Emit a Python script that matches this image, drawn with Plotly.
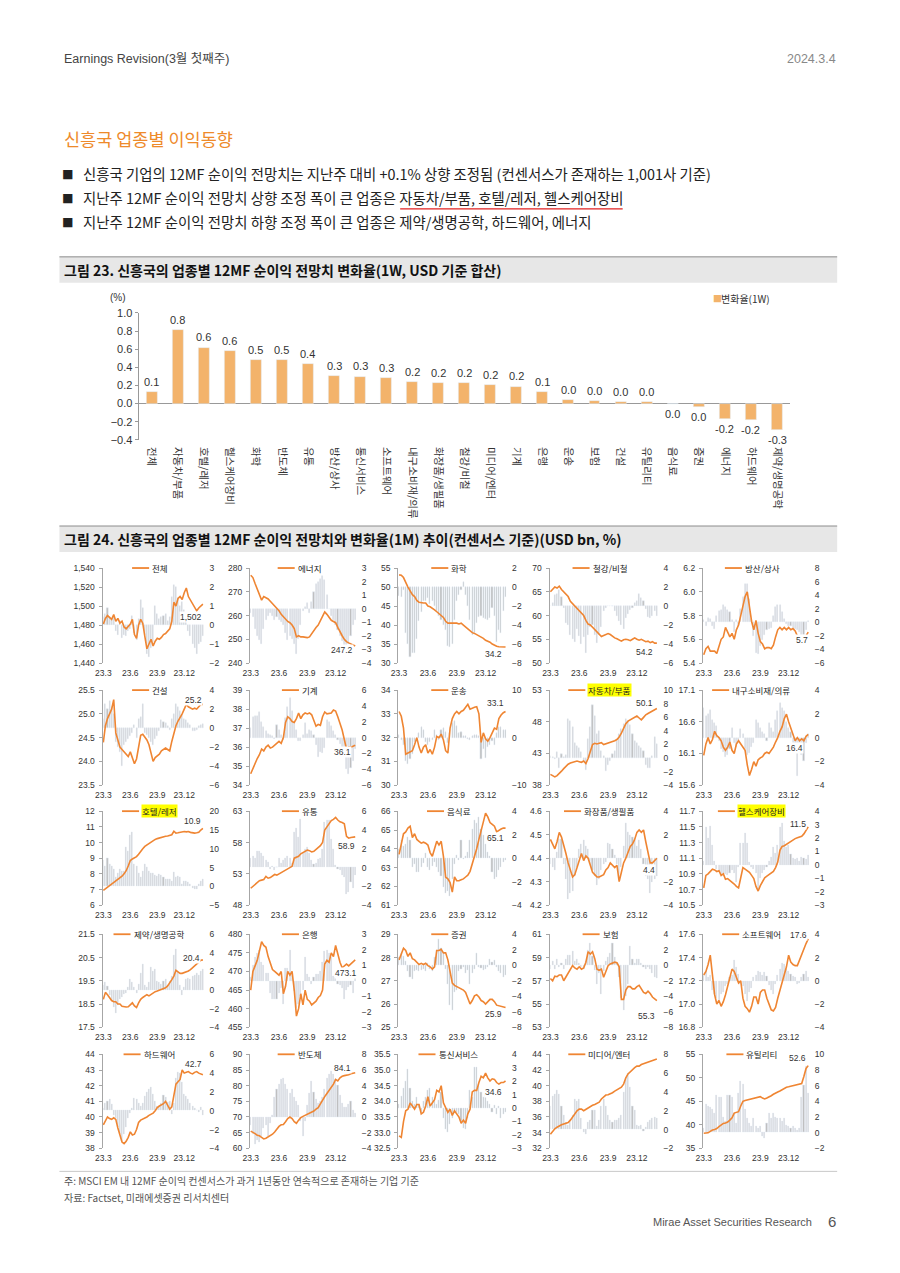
import plotly.graph_objects as go

W, H = 900, 1273
ORANGE = "#EF8532"
BAR_ORANGE = "#F3B36B"
GRAY = "#BDBDBD"
TXT = "#333333"
NUMFONT = "Liberation Sans, Noto Sans CJK KR, sans-serif"
KRFONT = "Noto Sans CJK KR, sans-serif"

# ---------------- Figure 23 data ----------------
bar_cats = ['전체', '자동차/부품', '호텔/레저', '헬스케어장비', '화학', '반도체', '유통', '방산/상사',
            '통신서비스', '소프트웨어', '내구소비재/의류', '화장품/생필품', '철강/비철', '미디어/엔터',
            '기계', '은행', '운송', '보험', '건설', '유틸리티', '음식료', '증권', '에너지', '하드웨어',
            '제약/생명공학']
bar_vals = [0.13, 0.81, 0.62, 0.58, 0.48, 0.48, 0.44, 0.31, 0.30, 0.28, 0.24, 0.23, 0.23, 0.21,
            0.19, 0.13, 0.04, 0.03, 0.02, 0.02, -0.003, -0.04, -0.17, -0.18, -0.29]

# ---------------- Figure 24 data (weekly, 23.3 ~ 24.3) ----------------
x_ticks = ['23.3', '23.6', '23.9', '23.12']
x_tick_idx = [0, 13, 26, 39]

panel_names = ['전체', '에너지', '화학', '철강/비철', '방산/상사',
               '건설', '기계', '운송', '자동차/부품', '내구소비재/의류',
               '호텔/레저', '유통', '음식료', '화장품/생필품', '헬스케어장비',
               '제약/생명공학', '은행', '증권', '보험', '소프트웨어',
               '하드웨어', '반도체', '통신서비스', '미디어/엔터', '유틸리티']
highlighted = ['자동차/부품', '호텔/레저', '헬스케어장비']

total_line = [1481, 1487, 1490, 1488, 1486, 1491, 1484, 1487, 1482, 1484, 1478, 1476, 1479, 1481, 1486, 1470, 1466, 1480, 1486, 1482, 1468, 1455, 1460, 1465, 1458, 1463, 1466, 1465, 1467, 1470, 1471, 1474, 1476, 1484, 1504, 1500, 1508, 1510, 1507, 1514, 1519, 1510, 1506, 1502, 1499, 1495, 1498, 1500, 1502]
total_bar = [0.4, 0.6, 0.9, 0.4, 0.3, 0.4, -0.3, -0.5, 0.2, -0.7, -0.5, -0.6, -0.3, -0.2, 0.5, -0.4, -0.8, 0.3, 1.3, 0.9, -0.5, -1.5, -1.7, -1.2, -0.9, 1.0, 0.6, 0.3, 0.4, 0.5, 0.6, 0.2, 0.4, 1.5, 2.1, 2.0, 1.4, 1.0, 1.2, 0.8, 0.3, -0.3, -0.6, -1.0, -1.2, -1.5, -1.0, -0.9, -0.6]

energy_line = [277, 276, 273.5, 271, 269, 266.5, 268, 267.5, 267, 266, 265, 264, 263, 262, 260.5, 259.5, 258.5, 257.5, 257, 256, 254.5, 251, 251.5, 251, 251, 250.8, 250.7, 251, 252.5, 254, 255, 256, 258, 260, 261.5, 260.5, 259, 258, 257.5, 257, 255, 253, 251.5, 250, 249, 248.5, 248, 247.5, 247.2]
energy_bar = [-0.3, -0.6, -1.5, -2.0, -2.3, -2.6, -1.5, -0.8, -0.5, -0.3, -0.5, -0.8, -0.6, -0.8, -1.0, -1.2, -1.8, -2.3, -2.0, -2.2, -2.6, -3.3, -2.2, -1.2, -0.2, 0.1, 0.4, -0.3, 0.5, 1.2, 1.8, 2.0, 2.2, 2.4, 2.1, 1.0, 0, -0.5, -0.8, -1.2, -1.6, -2.0, -2.4, -2.8, -3.0, -2.6, -2.0, -1.2, -0.8]

chem_line = [53.2, 53.1, 52.5, 51, 50, 49, 48, 47.5, 46.5, 46, 45.8, 45.8, 45.8, 45, 44.8, 44.5, 44, 43.5, 43, 42.5, 42, 41, 40.5, 40.5, 40.5, 40.5, 40.5, 40.3, 40.5, 40, 39.5, 39, 38.5, 38, 37.8, 37.5, 37.3, 37, 36.5, 36, 35.8, 35.5, 35, 34.6, 34.4, 34.3, 34.2, 34.2, 34.2]
chem_bar = [-0.9, -1.0, -0.3, -4.8, -6.0, -7.4, -6.9, -6.9, -5.5, -3.6, -2.6, -1.5, -1.5, -1.2, -1.8, -1.5, -2.0, -2.5, -3.0, -3.5, -4.0, -4.5, -6.2, -6.3, -6.0, -3.5, -1.5, -0.8, -0.3, 0.5, -0.8, -2.0, -3.5, -5.0, -4.8, -3.8, -3.2, -3.0, -3.3, -3.4, -3.5, -3.3, -2.2, -3.0, -5.8, -4.5, -4.8, -2.5, -1.0]

steel_line = [65, 65.5, 66, 65.8, 66.2, 65.5, 65, 64.5, 64, 63, 62.5, 62, 61.5, 61, 60.5, 60, 59, 58.2, 58, 57.5, 57, 56.5, 56, 55.6, 55.8, 56, 56.2, 56, 55.6, 55.3, 55.1, 54.8, 54.6, 54.9, 55, 54.9, 54.7, 55, 55.3, 55, 54.8, 55, 54.7, 54.5, 54.6, 54.3, 54.5, 54.2, 54.2]
steel_bar = [0, 0.3, 1.2, 1.3, 1.7, 1.0, -0.2, -1.8, -2.0, -3.0, -3.5, -3.8, -2.4, -3.2, -4.0, -3.3, -4.9, -3.0, -2.2, -2.0, -3.1, -3.9, -3.0, -2.2, -0.5, -0.2, 0, 0, 0, -0.5, -1.0, -1.6, -2.0, -2.4, -1.3, -0.8, -0.4, -0.2, 0.3, 0.5, 1.3, 0.8, 0.5, -0.3, -1.2, -1.3, -1.0, -0.5, -1.0]

trading_line = [5.47, 5.52, 5.54, 5.50, 5.50, 5.50, 5.48, 5.55, 5.60, 5.62, 5.70, 5.66, 5.62, 5.65, 5.60, 5.68, 5.72, 5.80, 5.88, 5.96, 6.00, 5.85, 5.75, 5.68, 5.76, 5.65, 5.58, 5.56, 5.52, 5.53, 5.53, 5.52, 5.55, 5.62, 5.68, 5.70, 5.68, 5.70, 5.68, 5.70, 5.68, 5.69, 5.67, 5.63, 5.60, 5.58, 5.57, 5.63, 5.66]
trading_bar = [0.3, -0.5, 0.6, 0.5, -0.6, -1.0, 1.0, 1.6, 1.8, 2.6, 2.2, 1.8, 1.5, 0.3, -1.5, 0.3, -0.5, 2.0, 3.8, 5.6, 5.6, 3.5, 0.5, -2.0, -4.5, -4.7, -3.5, -2.6, -1.8, -1.2, -1.0, -0.8, 1.0, 2.2, 2.5, 2.5, 1.5, 0.5, -0.3, -0.5, -0.5, -0.8, -1.0, -1.2, -1.5, -1.8, -1.8, -1.2, 0.2]

constr_line = [24.4, 24.75, 24.9, 25.0, 25.1, 25.3, 24.6, 24.45, 24.3, 24.25, 24.2, 24.15, 24.1, 24.2, 24.05, 23.95, 24.05, 24.35, 24.55, 24.57, 24.52, 24.45, 24.35, 24.2, 24.0, 24.08, 24.12, 24.15, 24.22, 24.26, 24.28, 24.25, 24.22, 24.42, 24.6, 24.75, 24.85, 24.92, 25.0, 25.1, 25.2, 25.15, 25.12, 25.1, 25.12, 25.1, 25.15, 25.2, 25.2]
constr_bar = [1.0, 2.5, 2.0, 2.8, 2.2, 1.5, -1.5, -2.0, -2.5, -4.0, -1.8, -1.5, -1.2, -0.8, -0.5, 0.3, -1.0, 1.0, 1.2, 2.5, -0.5, -0.7, -1.0, -1.5, -1.8, -1.2, -0.8, -0.3, 0.8, 0.6, 0.5, 0.2, -0.2, 1.0, 1.5, 2.5, 2.2, 1.8, 1.4, 1.0, 0.8, 0.5, 0.3, -0.3, -0.3, -0.2, 0.2, 0.3, 0.4]

mach_line = [34.6, 34.9, 35.2, 35.4, 35.6, 35.9, 35.8, 36.0, 36.1, 35.95, 36.0, 36.1, 36.25, 36.3, 36.2, 36.5, 37.3, 37.6, 37.5, 37.35, 37.3, 37.5, 37.8, 37.5, 37.7, 37.8, 37.75, 37.8, 37.7, 37.4, 37.1, 37.2, 37.15, 37.6, 37.85, 37.75, 37.78, 37.8, 37.95, 37.9, 37.6, 37.3, 36.9, 36.4, 35.9, 36.0, 36.0, 36.05, 36.1]
mach_bar = [1.2, 2.6, 2.7, 2.7, 3.2, 2.0, 1.3, 0.8, 0.5, 0.3, 0.2, -0.2, 1.6, 1.0, 0.3, -0.3, 2.5, 3.8, 5.0, 3.4, 1.8, 1.0, -0.4, -0.5, 0.3, 1.8, 0.5, 1.0, 0.8, 0.3, -1.0, -2.4, -1.8, -2.0, -1.3, 2.2, 2.0, 1.5, 0.8, 0.3, -0.3, -0.8, -1.5, -2.0, -4.0, -4.6, -3.8, -3.0, -1.5]

trans_line = [33.1, 32.9, 32.4, 31.3, 31.35, 31.4, 31.45, 31.7, 32.0, 31.6, 31.35, 31.6, 31.7, 31.35, 31.5, 31.3, 31.6, 32.05, 32.0, 32.15, 31.9, 31.45, 31.35, 32.4, 32.8, 33.0, 33.1, 33.0, 33.1, 33.15, 33.3, 33.4, 33.2, 33.25, 33.28, 33.3, 33.0, 31.8, 32.2, 31.95, 31.85, 32.0, 32.2, 32.4, 32.35, 32.8, 32.95, 33.05, 33.1]
trans_bar = [0.5, -0.5, -1.5, -5.0, -5.5, -4.5, -3.5, -1.0, -0.8, 1.0, 2.2, 1.6, -1.0, -1.5, -1.0, -0.5, 1.5, 0.5, -0.5, 1.5, 2.0, 1.2, -1.2, 1.0, 3.0, 3.5, 2.5, 1.0, 1.2, 0.3, 0.4, -0.3, -0.5, 0.4, 0.5, 0.5, 0.3, -4.6, -2.5, -4.3, -2.0, -1.5, -0.7, -1.5, 1.0, 2.2, 2.2, 1.5, 1.5]

auto_line = [39.7, 39.5, 39.3, 39.5, 39.8, 40.2, 40.6, 41.0, 41.3, 41.5, 41.6, 41.7, 41.8, 41.7, 41.6, 41.8, 41.4, 42.2, 43.2, 44.4, 44.6, 44.5, 44.6, 44.7, 44.4, 44.5, 44.6, 44.7, 44.8, 45.0, 45.2, 45.6, 46.2, 47.0, 47.7, 48.1, 48.3, 48.5, 48.8, 48.9, 48.6, 48.3, 48.7, 49.1, 49.3, 49.5, 49.7, 49.9, 50.1]
auto_bar = [0.3, 0.2, -0.2, 0.8, -1.5, 0.5, 0.2, 0.4, 5.8, 5.5, 4.5, 2.2, 1.8, 1.5, 0.8, -0.5, -1.8, 2.8, 4.5, 7.8, 6.2, 3.5, 4.0, 1.0, 0.3, -2.0, -1.0, -0.5, 0.5, 1.0, 2.5, 3.5, 4.3, 5.0, 5.8, 5.5, 4.8, 3.5, 2.5, 2.2, 1.8, 1.5, 1.0, -1.0, -1.5, -1.5, 0.3, 3.1, 2.0]

durable_line = [16.07, 16.25, 16.35, 16.25, 16.32, 16.45, 16.38, 16.35, 16.3, 16.2, 16.15, 16.2, 16.28, 16.15, 16.1, 16.25, 16.3, 16.25, 16.2, 16.15, 15.92, 15.75, 15.85, 15.97, 15.9, 16.0, 16.03, 16.05, 16.1, 16.12, 16.1, 16.15, 16.2, 16.28, 16.35, 16.45, 16.52, 16.65, 16.72, 16.6, 16.5, 16.4, 16.3, 16.35, 16.3, 16.33, 16.3, 16.37, 16.4]
durable_bar = [2.5, 1.8, 2.0, 2.3, 1.5, 1.2, 1.0, -0.3, -1.0, -1.2, -1.6, -1.5, -1.0, 0.8, -0.5, -0.8, -0.4, 0.7, 0.3, -1.0, -1.5, -1.3, -0.8, -0.5, 1.5, 1.2, 0.8, 0.5, 0.3, -0.3, 1.2, 0.8, 0.5, 1.5, 2.2, 2.9, 2.5, 2.2, 1.3, 0.8, 0.5, -0.5, -0.8, -3.2, -1.0, -1.5, -2.0, -0.5, 0.3]

hotel_line = [6.95, 7.05, 7.15, 7.25, 7.3, 7.4, 7.5, 7.6, 7.7, 7.85, 8.0, 8.2, 8.5, 8.85, 8.95, 9.0, 9.1, 9.25, 9.45, 9.6, 9.75, 9.85, 9.95, 10.05, 10.12, 10.2, 10.25, 10.3, 10.35, 10.4, 10.4, 10.42, 10.45, 10.5, 10.72, 10.6, 10.62, 10.65, 10.65, 10.7, 10.68, 10.7, 10.65, 10.6, 10.6, 10.62, 10.65, 10.8, 10.9]
hotel_bar = [7.0, 5.5, 7.5, 6.0, 5.5, 4.5, 2.5, 3.5, 4.5, 4.0, 4.0, 10.5, 9.5, 13.5, 14.5, 6.0, 5.5, 3.5, 2.5, 4.0, 6.0, 5.0, 4.0, 3.5, 3.5, 3.0, 2.8, 3.2, 3.0, 2.5, 2.0, 1.8, 1.8, 1.5, 3.8, 2.5, 2.6, 2.5, 0.5, 1.5, 1.3, 1.0, 0.5, -0.5, -0.8, -0.8, 0.5, 1.5, 1.8]

retail_line = [50.7, 51.0, 51.3, 51.6, 51.9, 52.0, 52.1, 52.6, 52.3, 52.4, 52.6, 52.9, 52.8, 53.0, 53.2, 53.4, 53.6, 53.7, 54.0, 54.2, 55.5, 55.6, 55.8, 56.2, 56.4, 56.6, 56.8, 56.7, 56.5, 56.6, 56.9, 57.3, 57.5, 58.0, 60.0, 60.5, 61.0, 61.5, 61.7, 62.0, 61.6, 61.3, 61.2, 61.0, 59.0, 58.7, 58.8, 58.9, 58.9]
retail_bar = [1.0, 1.2, 1.0, 1.8, 1.7, 1.5, 1.2, 0.8, 0.6, -0.2, 0.2, -0.3, 0.0, 1.0, 0.5, 0.8, 1.0, 1.2, 1.0, 0.5, 3.8, 4.2, 3.2, 5.2, 1.5, 2.0, 2.2, 1.5, 0.8, 0.4, 0.5, 0.9, 1.0, 2.0, 4.8, 5.0, 5.0, 3.0, 2.0, 0.3, -0.2, -0.3, -0.8, -1.0, -2.8, -2.6, -1.5, -2.2, -0.8]

food_line = [63.7, 64.3, 64.8, 64.9, 65.1, 65.2, 64.6, 64.8, 64.5, 64.4, 64.3, 64.35, 64.3, 64.2, 63.8, 63.6, 64.0, 64.4, 64.2, 64.4, 63.6, 62.5, 62.4, 62.2, 61.7, 62.5, 62.3, 62.3, 62.35, 62.4, 62.5, 62.6, 62.8, 63.2, 63.5, 64.0, 64.5, 65.0, 65.5, 65.9, 65.7, 65.4, 65.3, 65.2, 64.9, 65.0, 65.05, 65.1, 65.1]
food_bar = [0.8, 1.5, 1.0, 1.2, 1.8, 1.5, -0.8, -0.5, -1.2, -1.2, -0.8, -0.4, 0.4, -0.8, -1.0, -0.7, -0.3, -0.8, -1.2, -1.5, -2.5, -3.0, -2.8, -3.2, -1.8, -0.5, 0.3, -0.2, 1.5, -0.1, 0.2, 0.5, 1.5, 2.5, 3.2, 3.0, 3.5, 2.5, 2.0, 1.2, 0.5, 0.2, -1.2, -1.8, -1.6, -1.0, -0.8, -0.3, -0.2]

cosm_line = [4.48, 4.46, 4.44, 4.47, 4.51, 4.49, 4.46, 4.42, 4.38, 4.35, 4.32, 4.33, 4.36, 4.39, 4.42, 4.39, 4.41, 4.40, 4.37, 4.34, 4.33, 4.32, 4.32, 4.325, 4.33, 4.35, 4.36, 4.38, 4.37, 4.36, 4.37, 4.30, 4.34, 4.38, 4.40, 4.43, 4.45, 4.46, 4.48, 4.51, 4.52, 4.51, 4.52, 4.47, 4.42, 4.38, 4.38, 4.39, 4.40]
cosm_bar = [-0.5, -0.8, -1.0, 0.5, 1.6, 1.6, -0.5, -1.8, -3.5, -3.0, -2.8, -1.5, -0.8, 0.8, 1.2, 1.5, 1.0, 0.8, -0.5, -1.0, -1.5, -2.3, -1.8, -1.0, -0.5, -0.3, 1.3, 1.2, 0.8, 0.3, -0.5, -1.8, -0.8, 1.0, 3.0, 2.2, 2.0, 1.8, 1.5, 1.0, 1.5, 0.8, -0.5, -1.5, -1.8, -3.0, -2.0, -1.8, -1.5]

hce_line = [10.72, 10.88, 10.9, 10.93, 10.96, 10.95, 10.93, 10.94, 10.88, 10.9, 10.83, 10.84, 10.82, 10.8, 10.77, 10.74, 10.72, 10.85, 10.98, 10.96, 10.94, 10.92, 10.88, 10.84, 10.74, 10.68, 10.75, 10.8, 10.85, 10.87, 10.89, 10.9, 10.93, 10.98, 11.05, 11.2, 11.25, 11.26, 11.28, 11.3, 11.31, 11.33, 11.35, 11.36, 11.37, 11.38, 11.41, 11.45, 11.5]
hce_bar = [0.3, 2.8, 2.0, 2.9, 1.5, 0.3, -0.3, -0.5, -0.7, -0.6, -0.7, -0.8, -0.6, -0.4, -0.6, -1.3, -0.2, 1.6, 1.6, 2.4, 1.6, 0.2, -0.2, -0.3, -0.6, -1.8, -1.0, -0.6, -0.4, -0.2, 0.3, 0.6, 1.3, 0.9, 1.5, 2.8, 3.1, 1.8, 1.3, 1.5, 0.8, 0.5, 0.4, 0.5, 0.3, 0.6, 0.5, 0.4, 0.7]

pharma_line = [18.7, 19.0, 18.9, 18.75, 18.65, 18.6, 18.6, 18.5, 18.5, 18.4, 18.38, 18.37, 18.38, 18.45, 18.55, 18.42, 18.35, 18.55, 18.7, 18.78, 18.85, 18.9, 18.85, 18.92, 18.98, 19.03, 19.06, 19.1, 19.12, 19.15, 19.2, 19.28, 19.4, 19.55, 19.7, 19.95, 19.88, 19.82, 19.82, 19.85, 19.88, 19.92, 19.98, 20.05, 20.12, 20.22, 20.3, 20.38, 20.4]
pharma_bar = [0.5, 0.8, 0.4, -0.6, -1.2, -1.8, -2.5, -1.6, -1.0, -0.8, -0.5, -0.3, 0.3, 1.2, 0.8, 0.3, -0.3, 0.6, 1.8, 2.8, 0.5, 0.3, 0.8, 2.5, 2.0, 2.2, 1.0, 0.8, 0.6, 1.0, 1.2, 0.5, 1.0, 1.5, 3.8, 4.4, 2.0, 0.5, -0.6, 0.3, 1.2, 1.3, 1.2, 1.5, 1.6, 1.8, 1.6, 2.0, 2.2]

bank_line = [465, 470, 471.5, 473, 475.5, 478, 477, 476.5, 474, 472, 470.5, 470, 469.5, 469, 470, 464, 466, 470, 469, 470, 465, 458, 460, 464, 461, 465, 462.5, 462, 461, 461.5, 462, 463, 463.5, 465, 472, 473, 472.5, 475, 474, 477, 474.5, 472.5, 471, 471.5, 472, 471.5, 472, 472.5, 473.1]
bank_bar = [0.2, 1.0, 1.5, 1.8, 2.0, 1.2, 1.0, 0.5, 0.5, -0.8, -1.2, -1.2, -1.2, -0.8, -0.5, -1.5, 0.8, 0.8, 2.0, 0.5, -0.7, -1.8, -1.5, -1.0, -0.6, 1.5, 0.4, 0.2, -0.2, 0.2, 0.4, 0.4, 0.6, 1.2, 1.9, 2.0, 1.8, 1.5, 0.3, 0.2, -0.2, -0.3, -0.5, -1.2, -0.6, -0.4, -0.3, -0.8, 0.2]

sec_line = [27.9, 28.2, 28.4, 28.3, 28.05, 28.2, 27.95, 27.9, 27.8, 27.7, 27.75, 27.7, 27.75, 27.65, 27.6, 27.5, 27.6, 28.3, 28.3, 28.35, 28.2, 28.2, 27.9, 27.3, 26.9, 26.8, 26.75, 26.72, 26.65, 26.6, 26.5, 26.2, 26.0, 26.15, 26.35, 26.4, 26.3, 26.15, 26.1, 26.0, 26.1, 26.2, 26.2, 26.1, 25.95, 25.92, 25.9, 25.88, 25.85]
sec_bar = [1.0, 1.5, 1.2, 0.5, -0.8, -1.5, -1.8, -0.8, -0.6, -0.8, -0.6, -0.5, -0.8, 0.3, -0.5, -0.8, 1.0, 2.0, 3.3, 2.2, 1.5, -0.5, -2.5, -5.2, -5.8, -3.5, -3.2, -0.8, -0.5, -0.3, -1.0, -0.7, -2.5, -1.0, -0.5, 1.5, -0.3, -0.4, -0.6, -0.5, -0.3, 0.8, 0.4, 0.7, -0.2, -0.8, -1.0, -1.5, -1.3]

ins_line = [57.2, 57.0, 57.4, 57.35, 57.5, 57.5, 57.0, 57.3, 57.7, 58.0, 58.3, 58.1, 58.0, 58.2, 58.0, 58.1, 58.6, 59.5, 59.3, 59.5, 58.9, 58.0, 57.9, 58.0, 57.3, 57.8, 58.3, 58.45, 58.55, 58.6, 58.55, 58.2, 55.4, 55.4, 56.2, 56.5, 56.5, 56.3, 56.3, 56.5, 56.6, 56.3, 56.0, 55.9, 56.1, 55.9, 55.6, 55.45, 55.3]
ins_bar = [-0.5, 0.5, -0.5, 0.8, -0.3, 0.2, -0.5, 0.8, 1.3, 1.3, 1.8, 0.5, 0.8, 0.3, -0.3, -0.5, 0.5, 2.0, 2.8, 1.2, -0.6, -2.5, -1.0, -3.8, -0.8, 0.5, 1.0, 1.5, 2.8, 1.0, 0.3, -1.5, -4.2, -5.8, -4.0, -2.5, 2.5, 0.8, 0.2, 0.8, 0.8, 0.3, -0.2, -0.5, -0.3, -0.5, -1.0, -1.5, -1.7]

soft_line = [17.25, 17.28, 17.34, 17.42, 17.25, 17.08, 17.0, 17.03, 16.98, 17.02, 17.08, 17.15, 17.22, 17.3, 17.28, 17.22, 17.18, 17.2, 17.05, 16.98, 16.96, 16.93, 16.98, 17.06, 17.06, 17.0, 17.1, 17.12, 17.12, 17.05, 17.0, 16.95, 16.94, 16.97, 17.05, 17.12, 17.2, 17.26, 17.32, 17.42, 17.36, 17.34, 17.33, 17.33, 17.38, 17.43, 17.47, 17.52, 17.56]
soft_bar = [0.5, 0.8, 0.3, 0.5, -0.8, -1.2, -1.5, -1.8, -1.2, -1.0, -0.5, -0.3, 0.3, 0.5, 1.8, 1.2, 0.6, -0.3, -0.5, -1.2, -1.8, -1.0, -0.6, 0.3, 0.5, 0.8, 0.7, 0.5, 0.7, 0.4, -0.4, -0.8, -1.2, -0.3, 0.5, 1.0, 1.5, 1.4, 1.0, 0.8, 0.6, 0.4, 0.3, -0.3, -0.2, 0.3, 0.6, 0.8, 0.3]

hw_line = [39.5, 39.8, 40.0, 39.9, 39.85, 39.95, 39.85, 39.3, 38.8, 38.4, 38.3, 38.45, 38.7, 39.05, 38.85, 38.9, 39.2, 39.65, 39.8, 39.85, 39.95, 40.0, 40.1, 40.15, 40.25, 40.4, 40.6, 40.7, 40.75, 40.85, 41.0, 40.7, 40.5, 40.65, 41.3, 42.1, 42.25, 42.4, 43.0, 42.8, 42.85, 42.9, 42.8, 42.75, 42.85, 42.9, 42.8, 42.75, 42.7]
hw_bar = [0.3, 0.8, 1.0, 1.2, 0.7, -0.5, -0.8, -1.8, -2.5, -3.3, -2.5, -1.8, -0.8, -0.3, 0.3, 1.3, 1.2, 0.8, 0.5, 0.8, 1.5, 2.0, 2.3, 2.5, 1.8, 1.0, 0.5, 0.5, 0.8, 1.6, 1.4, 0.9, 1.0, -0.4, 0.8, 3.5, 4.1, 4.0, 3.0, 1.8, 1.5, 1.2, 0.8, 0.5, 0.3, 0.0, -0.2, 0.4, -0.5]

semi_line = [65.5, 65.2, 64.7, 64.2, 64.0, 63.5, 63.0, 63.2, 63.6, 64.2, 64.5, 65.2, 66.2, 67.0, 67.5, 67.6, 68.5, 69.5, 70.0, 69.5, 68.5, 68.0, 69.0, 69.8, 70.2, 70.5, 70.9, 71.2, 71.5, 71.9, 72.5, 73.0, 74.2, 75.5, 76.5, 77.5, 78.5, 79.5, 80.5, 82.0, 81.5, 82.5, 83.0, 83.2, 83.3, 83.5, 83.8, 84.0, 84.1]
semi_bar = [-1.0, -2.2, -3.5, -3.0, -3.2, -2.5, -1.5, -1.0, -2.5, -0.8, 0.2, 2.5, 3.5, 4.2, 4.8, 5.0, 4.2, 3.5, 3.0, 3.5, 2.5, 2.0, 1.5, -0.5, -2.5, -0.5, 1.5, 3.0, 4.5, 3.2, 2.2, 1.8, 2.0, 2.5, 3.5, 5.0, 5.5, 5.8, 5.5, 4.8, 4.0, 2.8, 1.8, 1.2, 1.3, 1.6, 2.0, 0.8, 0.5]

telecom_line = [32.9, 32.85, 33.35, 33.7, 33.75, 33.95, 33.85, 33.75, 33.9, 33.9, 33.6, 33.65, 33.85, 34.15, 33.85, 33.95, 34.05, 34.35, 34.3, 34.5, 33.95, 33.8, 33.65, 33.75, 33.55, 33.7, 33.6, 33.5, 33.3, 33.4, 33.3, 33.6, 33.75, 34.3, 34.35, 34.35, 34.6, 34.8, 34.75, 34.9, 34.75, 34.65, 34.72, 34.7, 34.6, 34.55, 34.6, 34.6, 34.65]
telecom_bar = [0.3, 0.9, 1.5, 2.0, 2.9, 1.5, 0.5, 0.3, 0.8, 0.2, -0.3, 0.5, 0.8, 1.3, 1.5, 0.8, 0.5, 0.3, 0.6, 1.2, -0.8, -1.6, -1.8, -1.2, -0.8, -0.4, -0.3, -0.5, -1.0, -1.5, -1.6, -0.8, 1.3, 0.8, 3.0, 3.0, 1.8, 1.2, 0.8, 1.0, 0.5, 0.3, -0.3, 0.2, -0.5, 0.1, -0.8, -0.5, -0.3]

media_line = [33.8, 34.2, 34.5, 34.7, 34.9, 35.0, 35.1, 35.2, 35.3, 35.6, 36.0, 36.3, 36.8, 37.0, 37.0, 36.8, 37.0, 37.2, 37.4, 37.5, 37.6, 37.7, 37.9, 38.3, 38.5, 38.8, 38.85, 38.95, 39.1, 39.3, 39.45, 39.6, 39.8, 40.2, 41.0, 41.5, 41.8, 42.1, 42.3, 42.5, 42.5, 42.7, 42.8, 42.9, 43.0, 43.1, 43.2, 43.3, 43.4]
media_bar = [2.5, 3.5, 3.8, 4.2, 3.8, 2.5, 1.5, 0.8, 0.5, 1.0, 1.5, 3.2, 3.0, 3.2, 1.2, -0.3, -0.5, 0.8, 1.0, 2.0, 2.0, 0.3, 1.0, 2.5, 3.2, 2.5, 1.5, 1.0, 0.8, 1.0, 1.0, 1.2, 1.5, 4.0, 5.5, 6.0, 4.5, 2.5, 2.0, 0.5, 0.3, 0.5, -0.2, 0.2, 0.8, 1.0, 1.2, 1.3, 1.2]

util_line = [38.2, 38.2, 38.3, 38.6, 38.9, 39.0, 39.2, 39.6, 40.0, 40.3, 40.4, 40.6, 41.0, 41.5, 42.5, 42.6, 42.8, 44.0, 45.0, 45.2, 45.3, 45.4, 45.5, 45.7, 45.75, 45.8, 46.0, 45.7, 45.5, 45.7, 45.9, 46.2, 46.5, 46.8, 47.0, 47.2, 47.5, 47.8, 48.0, 48.1, 48.2, 48.3, 48.4, 48.5, 48.6, 48.8, 50.3, 52.0, 52.6]
util_bar = [0.6, 3.6, 3.4, 3.2, 3.0, 2.5, 4.8, 4.5, 4.5, 2.0, 1.5, 4.8, 4.8, 4.5, 2.5, 1.2, 5.0, 6.5, 6.2, 3.0, 1.8, 1.2, 0.8, 1.8, 0.8, 0.5, 0.8, -0.5, -0.7, 1.2, 2.5, 1.8, 2.5, 2.0, 1.8, 1.8, 1.5, 1.8, 1.0, 0.8, 0.5, 0.8, 0.5, 0.3, 0.6, 4.5, 6.0, 8.5, 5.0]

panel_lines = [total_line, energy_line, chem_line, steel_line, trading_line,
               constr_line, mach_line, trans_line, auto_line, durable_line,
               hotel_line, retail_line, food_line, cosm_line, hce_line,
               pharma_line, bank_line, sec_line, ins_line, soft_line,
               hw_line, semi_line, telecom_line, media_line, util_line]
panel_bars = [total_bar, energy_bar, chem_bar, steel_bar, trading_bar,
              constr_bar, mach_bar, trans_bar, auto_bar, durable_bar,
              hotel_bar, retail_bar, food_bar, cosm_bar, hce_bar,
              pharma_bar, bank_bar, sec_bar, ins_bar, soft_bar,
              hw_bar, semi_bar, telecom_bar, media_bar, util_bar]

# axis settings: (left_min, left_max, left_step, left_fmt, right_min, right_max, right_step)
panel_axes = [
    (1440, 1540, 20, ",", -2, 3, 1), (240, 280, 10, "d", -4, 3, 1), (30, 55, 5, "d", -8, 2, 2),
    (50, 70, 5, "d", -6, 4, 2), (5.4, 6.2, 0.2, ".1f", -6, 8, 2),
    (23.5, 25.5, 0.5, ".1f", -6, 4, 2), (34, 39, 1, "d", -6, 6, 2), (30, 34, 1, "d", -10, 10, 10),
    (38, 53, 5, "d", -4, 10, 2), (15.6, 17.1, 0.5, ".1f", -4, 4, 2),
    (6, 12, 1, "d", -5, 20, 5), (48, 63, 5, "d", -4, 6, 2), (61, 66, 1, "d", -4, 4, 2),
    (4.2, 4.6, 0.1, ".1f", -4, 4, 2), (10.5, 11.7, 0.2, ".1f", -3, 4, 1),
    (17.5, 21.5, 1, ".1f", -4, 6, 2), (455, 480, 5, "d", -3, 3, 1), (25, 29, 1, "d", -8, 4, 2),
    (53, 61, 2, "d", -8, 4, 2), (16.8, 17.6, 0.2, ".1f", -4, 4, 2),
    (38, 44, 1, "d", -4, 6, 2), (60, 90, 5, "d", -4, 8, 2), (32.5, 35.5, 0.5, ".1f", -3, 4, 1),
    (32, 44, 2, "d", -2, 8, 2), (35, 55, 5, "d", -2, 10, 2),
]
# end-value label placement (index, left-axis value)
label_pos = [(42.3, 1488), (42, 245.3), (42.8, 32.5), (42.5, 52.3), (45.3, 5.59),
             (43.4, 25.3), (42.1, 35.75), (43.6, 33.45), (42.6, 51.0), (41.9, 16.19),
             (42.8, 11.36), (44, 57.5), (43.6, 64.6), (44.3, 4.35), (43.4, 11.54),
             (42.4, 20.5), (43.6, 469.7), (42.8, 25.57), (43.2, 53.94), (43.4, 17.59),
             (43.3, 43.4), (42.1, 85.7), (42.7, 34.3), (42.1, 44.3), (43, 54.15)]

# ---------------- helpers ----------------
# page coordinates below are given as seen in the final picture; the viewer shows the page
# with a small offset and scale, which these helpers compensate.
S, OX, OY = 0.99, 7.7, 7.3

def fx(x):
    return ((x - OX) / S) / W

def fy(y):
    return 1 - ((y - OY) / S) / H

ann = []
shp = []

def text(x, y, s, size, color=TXT, font=KRFONT, xanchor='left', yanchor='middle', **kw):
    ann.append(dict(x=fx(x), y=fy(y), xref='paper', yref='paper', text=s, showarrow=False,
                    xanchor=xanchor, yanchor=yanchor,
                    font=dict(size=size, color=color, family=font), **kw))

def hline(x0, x1, y, color, width=1):
    shp.append(dict(type='line', xref='paper', yref='paper', x0=fx(x0), x1=fx(x1),
                    y0=fy(y), y1=fy(y), line=dict(color=color, width=width)))

def est_w(s, size):
    w = 0.0
    for ch in s:
        if ord(ch) >= 0xAC00:
            w += 1.0
        elif ch == '/':
            w += 0.36
        else:
            w += 0.56
    return w * size

fig = go.Figure()
layout = dict(width=W, height=H, margin=dict(l=0, r=0, t=0, b=0), paper_bgcolor='white',
              plot_bgcolor='rgba(0,0,0,0)', showlegend=False, bargap=0,
              font=dict(family=NUMFONT, color=TXT))

# ---------------- page header and text ----------------
text(63, 60, "Earnings Revision(3월 첫째주)", 12.5, color="#444", font=NUMFONT)
text(837, 60, "2024.3.4", 12.5, color="#888", font=NUMFONT, xanchor='right')
text(63, 140, "신흥국 업종별 이익동향", 17.5, color="#EE8A2A")
bullets = ["신흥국 기업의 12MF 순이익 전망치는 지난주 대비 +0.1% 상향 조정됨 (컨센서스가 존재하는 1,001사 기준)",
           "지난주 12MF 순이익 전망치 상향 조정 폭이 큰 업종은 자동차/부품, 호텔/레저, 헬스케어장비",
           "지난주 12MF 순이익 전망치 하향 조정 폭이 큰 업종은 제약/생명공학, 하드웨어, 에너지"]
for i, b in enumerate(bullets):
    y = 175 + 24 * i
    text(61, y, "■", 11.5, color="#222")
    text(82, y, b, 14.4, color="#222")
hline(400, 622, 210, "#E02020", 1.2)

# figure title bands
for y0, t in [(258, "그림 23. 신흥국의 업종별 12MF 순이익 전망치 변화율(1W, USD 기준 합산)"),
              (527, "그림 24. 신흥국의 업종별 12MF 순이익 전망치와 변화율(1M) 추이(컨센서스 기준)(USD bn, %)")]:
    shp.append(dict(type='rect', xref='paper', yref='paper', x0=fx(60), x1=fx(836), y0=fy(y0 + 26),
                    y1=fy(y0), fillcolor="#E7E7E7", line=dict(width=0), layer='below'))
    hline(60, 836, y0, "#8C8C8C", 1)
    text(63, y0 + 13, "<b>" + t + "</b>", 14, color="#111")

# footnotes
hline(60, 836, 1172, "#C8C8C8", 1)
text(63, 1181, "주: MSCI EM 내 12MF 순이익 컨센서스가 과거 1년동안 연속적으로 존재하는 기업 기준", 10, color="#555")
text(63, 1198, "자료: Factset, 미래에셋증권 리서치센터", 10, color="#555")
text(813, 1223, "Mirae Asset Securities Research", 11, color="#555", font=NUMFONT, xanchor='right')
text(837, 1222, "6", 15, color="#555", font=NUMFONT, xanchor='right')

# ---------------- Figure 23 bar chart ----------------
bar_text = [f"{v:.1f}".replace("-0.0", "0.0") for v in bar_vals]
fig.add_trace(go.Bar(x=bar_cats, y=bar_vals, marker_color=BAR_ORANGE, width=0.42,
                     xaxis='x', yaxis='y', hoverinfo='skip'))
for cat, v, t in zip(bar_cats, bar_vals, bar_text):
    pos = v >= 0
    ann.append(dict(x=cat, y=v, xref='x', yref='y', text=t, showarrow=False,
                    yanchor='bottom' if pos else 'top', yshift=2 if pos else -2,
                    font=dict(size=11, family=NUMFONT, color=TXT)))
layout['xaxis'] = dict(domain=[fx(139), fx(789)], anchor='y', type='category', tickangle=90,
                       tickfont=dict(size=10.5, family=KRFONT, color=TXT), showline=False,
                       ticks='', showgrid=False, zeroline=False, ticklabelstandoff=6)
layout['yaxis'] = dict(domain=[fy(441), fy(314)], anchor='x', range=[-0.4001, 1.0001], dtick=0.2,
                       tick0=-0.4, tickformat='.1f', showgrid=False, zeroline=True,
                       zerolinecolor='#999', zerolinewidth=1, showline=True, linecolor='#999',
                       ticks='outside', ticklen=3, tickcolor='#999',
                       tickfont=dict(size=11, family=NUMFONT, color=TXT))
text(108, 299, "(%)", 10, font=NUMFONT)
text(710, 300, "■", 9, color=BAR_ORANGE, xanchor='left')
text(718, 300, "변화율(1W)", 10, xanchor='left')

# ---------------- Figure 24 small multiples ----------------
lefts = [103, 250, 398, 549, 702]
rights = [204, 356, 506, 657, 808]
tops = [569, 691, 812, 935, 1055]
bottoms = [664, 786, 906, 1028, 1149]

for k in range(25):
    r, c = divmod(k, 5)
    xn = k + 2
    yb = 2 * k + 2   # bars (right axis, base)
    yl = 2 * k + 3   # line (left axis, overlay)
    lmin, lmax, lstep, lfmt, rmin, rmax, rstep = panel_axes[k]
    line = panel_lines[k]
    bars = panel_bars[k]
    fig.add_trace(go.Bar(x=list(range(len(bars))), y=bars, marker_color=GRAY, width=0.5,
                         xaxis=f"x{xn}", yaxis=f"y{yb}", hoverinfo='skip'))
    fig.add_trace(go.Scatter(x=list(range(len(line))), y=line, mode='lines',
                             line=dict(color=ORANGE, width=1.6), xaxis=f"x{xn}", yaxis=f"y{yl}",
                             hoverinfo='skip'))
    layout[f"xaxis{xn}"] = dict(domain=[fx(lefts[c]), fx(rights[c])], anchor=f"y{yb}",
                                range=[-0.4, 48.4], tickvals=x_tick_idx, ticktext=x_ticks,
                                showgrid=False, zeroline=False, showline=False, ticks='',
                                ticklabelstandoff=3,
                                tickfont=dict(size=8.5, family=NUMFONT, color=TXT))
    rs = (rmax - rmin) * 0.0005
    layout[f"yaxis{yb}"] = dict(domain=[fy(bottoms[r]), fy(tops[r])], anchor=f"x{xn}", side='right',
                                range=[rmin - rs, rmax + rs], dtick=rstep, tick0=rmin, tickformat='d',
                                showgrid=False, zeroline=False, showline=False, ticks='outside',
                                ticklen=3, tickcolor='rgba(0,0,0,0)',
                                tickfont=dict(size=8.5, family=NUMFONT, color=TXT))
    ls = (lmax - lmin) * 0.0005
    layout[f"yaxis{yl}"] = dict(overlaying=f"y{yb}", anchor=f"x{xn}", side='left',
                                range=[lmin - ls, lmax + ls], dtick=lstep, tick0=lmin, tickformat=lfmt,
                                showgrid=False, zeroline=False, showline=True, linecolor='#A6A6A6',
                                ticks='outside', ticklen=3, tickcolor='#A6A6A6', ticklabelstandoff=2,
                                tickfont=dict(size=8.5, family=NUMFONT, color=TXT))
    # end value label
    lx, ly = label_pos[k]
    fmt = "{:,.0f}" if k == 0 else "{:.1f}"
    ann.append(dict(x=lx, y=ly, xref=f"x{xn}", yref=f"y{yl}", text=fmt.format(line[-1]),
                    showarrow=False, bgcolor='white', borderpad=0,
                    font=dict(size=8.5, family=NUMFONT, color=TXT)))
    # legend (orange line + name) centred on the panel top
    name = panel_names[k]
    tw = est_w(name, 8.5)
    total = 17 + 2 + tw
    cx = (lefts[c] + rights[c]) / 2 - 3
    x0 = cx - total / 2
    hline(x0, x0 + 17, tops[r], ORANGE, 1.8)
    extra = dict(bgcolor='#FFFF00', borderpad=0) if name in highlighted else dict(borderpad=0)
    text(x0 + 19, tops[r], name, 8.5, color="#222", **extra)

layout['annotations'] = ann
layout['shapes'] = shp
fig.update_layout(**layout)
fig.write_html("out.html")
